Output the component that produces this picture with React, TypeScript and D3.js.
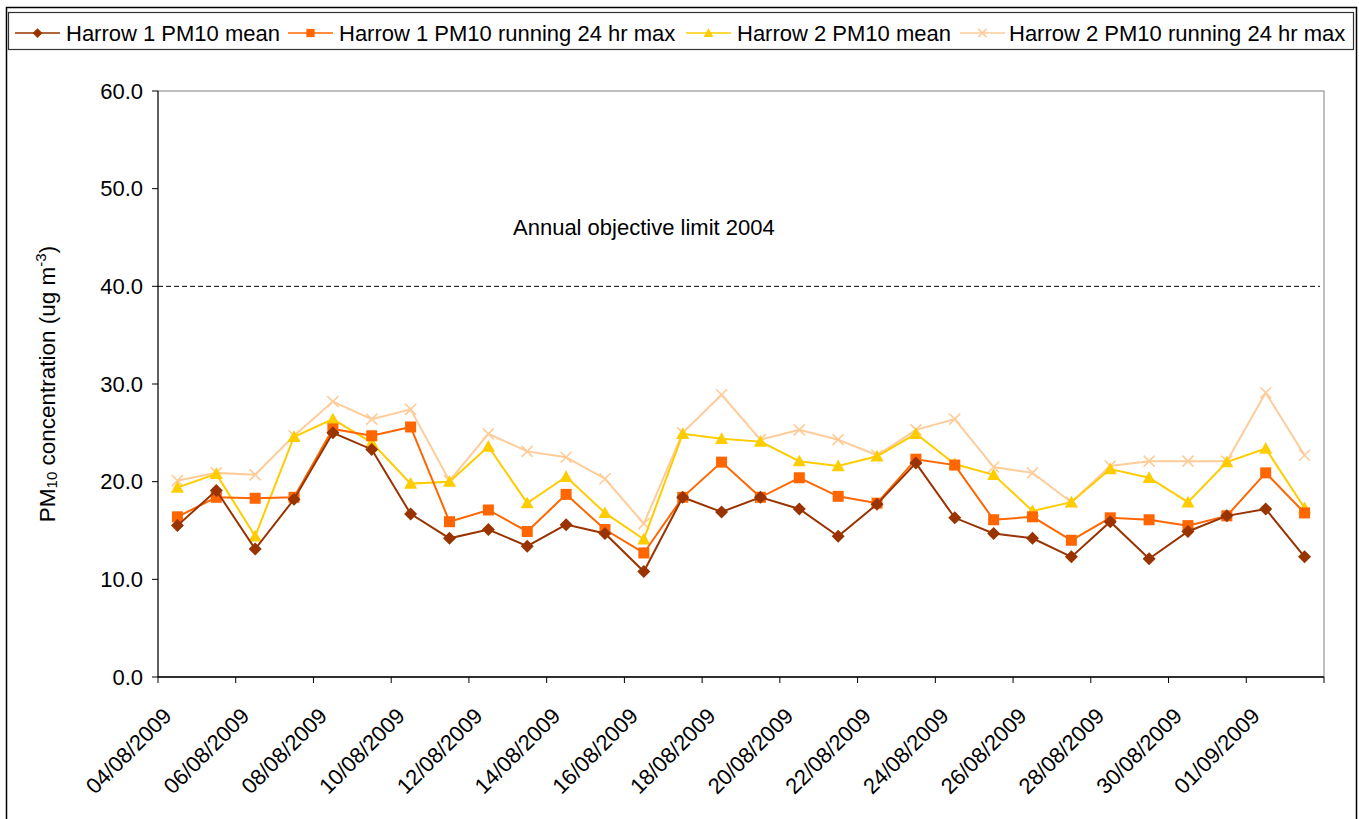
import * as d3 from "d3";

const dates = [
  "04/08/2009", "05/08/2009", "06/08/2009", "07/08/2009", "08/08/2009",
  "09/08/2009", "10/08/2009", "11/08/2009", "12/08/2009", "13/08/2009",
  "14/08/2009", "15/08/2009", "16/08/2009", "17/08/2009", "18/08/2009",
  "19/08/2009", "20/08/2009", "21/08/2009", "22/08/2009", "23/08/2009",
  "24/08/2009", "25/08/2009", "26/08/2009", "27/08/2009", "28/08/2009",
  "29/08/2009", "30/08/2009", "31/08/2009", "01/09/2009", "02/09/2009",
];

const harrow1Mean = [
  15.5, 19.1, 13.1, 18.2, 25.0, 23.3, 16.7, 14.2, 15.1, 13.4,
  15.6, 14.7, 10.8, 18.4, 16.9, 18.4, 17.2, 14.4, 17.7, 21.9,
  16.3, 14.7, 14.2, 12.3, 15.9, 12.1, 14.9, 16.5, 17.2, 12.3,
];
const harrow1Max = [
  16.4, 18.4, 18.3, 18.4, 25.4, 24.7, 25.6, 15.9, 17.1, 14.9,
  18.7, 15.1, 12.7, 18.4, 22.0, 18.4, 20.4, 18.5, 17.8, 22.3,
  21.7, 16.1, 16.4, 14.0, 16.3, 16.1, 15.5, 16.5, 20.9, 16.8,
];
const harrow2Mean = [
  19.4, 20.8, 14.4, 24.6, 26.4, 24.0, 19.8, 20.0, 23.6, 17.8,
  20.5, 16.8, 14.1, 24.9, 24.4, 24.1, 22.1, 21.6, 22.6, 24.9,
  21.8, 20.7, 17.0, 17.9, 21.3, 20.4, 17.9, 22.0, 23.4, 17.3,
];
const harrow2Max = [
  20.1, 20.9, 20.7, 24.7, 28.2, 26.4, 27.4, 20.1, 24.9, 23.1,
  22.5, 20.3, 15.7, 25.0, 28.9, 24.3, 25.3, 24.3, 22.7, 25.3,
  26.4, 21.5, 20.9, 17.9, 21.6, 22.1, 22.1, 22.1, 29.1, 22.7,
];

const yTicks = [0, 10, 20, 30, 40, 50, 60];
const objectiveLimit = 40;
const objectiveLabel = "Annual objective limit 2004";

const series = [
  { name: "Harrow 1 PM10 mean", values: harrow1Mean, color: "#993300", marker: "diamond" },
  { name: "Harrow 1 PM10 running 24 hr max", values: harrow1Max, color: "#FF6600", marker: "square" },
  { name: "Harrow 2 PM10 mean", values: harrow2Mean, color: "#FFCC00", marker: "triangle" },
  { name: "Harrow 2 PM10 running 24 hr max", values: harrow2Max, color: "#FFCC99", marker: "cross" },
];

const FONT = "'Liberation Sans', Arial, sans-serif";

const Marker = ({ kind, color, x, y, s = 1 }: { kind: string; color: string; x: number; y: number; s?: number }) => {
  if (kind === "diamond") {
    const r = 6.5 * s;
    return <path d={`M${x},${y - r}L${x + r},${y}L${x},${y + r}L${x - r},${y}Z`} fill={color} />;
  }
  if (kind === "square") {
    const r = 5.5 * s;
    return <rect x={x - r} y={y - r} width={2 * r} height={2 * r} fill={color} />;
  }
  if (kind === "triangle") {
    const r = 6.5 * s;
    return <path d={`M${x},${y - r}L${x + r},${y + r * 0.8}L${x - r},${y + r * 0.8}Z`} fill={color} />;
  }
  const r = 5.5 * s;
  return (
    <path
      d={`M${x - r},${y - r}L${x + r},${y + r}M${x - r},${y + r}L${x + r},${y - r}`}
      stroke={color}
      strokeWidth={1.6}
      fill="none"
    />
  );
};

export default function App() {
  const width = 1359;
  const height = 819;
  const plot = { left: 158, right: 1324, top: 91, bottom: 677 };

  const x = d3.scaleBand<string>().domain(dates).range([plot.left, plot.right]).padding(0);
  const cx = (d: string) => (x(d) || 0) + x.bandwidth() / 2;
  const y = d3.scaleLinear().domain([0, 60]).range([plot.bottom, plot.top]);

  const line = d3
    .line<number>()
    .x((_, i) => cx(dates[i]))
    .y((d) => y(d));

  const tickDates = dates.filter((_, i) => i % 2 === 0);
  const tickXs = [...tickDates.map((d) => x(d) || 0), plot.right];

  const legendItems = [
    { lineX: 15, textX: 66 },
    { lineX: 288, textX: 339 },
    { lineX: 686, textX: 737 },
    { lineX: 960, textX: 1009 },
  ];

  return (
    <svg
      width={width}
      height={height}
      style={{ position: "absolute", left: 0, top: 0, background: "#fff" }}
      fontFamily={FONT}
    >
      {/* outer chart frame */}
      <rect x={6.5} y={7.5} width={1350} height={830} fill="#fff" stroke="#000" strokeWidth={1.5} />

      {/* legend */}
      <rect x={8.5} y={12.5} width={1345} height={37} fill="#fff" stroke="#333" strokeWidth={1.2} />
      {series.map((s, i) => {
        const it = legendItems[i];
        return (
          <g key={s.name}>
            <line x1={it.lineX} x2={it.lineX + 45} y1={33} y2={33} stroke={s.color} strokeWidth={1.5} />
            <Marker kind={s.marker} color={s.color} x={it.lineX + 22.5} y={33} s={0.75} />
            <text x={it.textX} y={33} dy="0.35em" fontSize={22} fill="#000">
              {s.name}
            </text>
          </g>
        );
      })}

      {/* plot area border */}
      <rect
        x={plot.left}
        y={plot.top}
        width={plot.right - plot.left}
        height={plot.bottom - plot.top}
        fill="#fff"
        stroke="#808080"
        strokeWidth={1}
      />

      {/* y axis */}
      <line x1={plot.left} x2={plot.left} y1={plot.top} y2={plot.bottom} stroke="#000" strokeWidth={1} />
      {yTicks.map((t) => (
        <g key={t}>
          <line x1={plot.left - 6} x2={plot.left} y1={y(t)} y2={y(t)} stroke="#000" />
          <text x={143} y={y(t)} dy="0.35em" textAnchor="end" fontSize={22} fill="#000">
            {d3.format(".1f")(t)}
          </text>
        </g>
      ))}
      <text
        transform={`translate(47,${(plot.top + plot.bottom) / 2}) rotate(-90)`}
        textAnchor="middle"
        dy="0.35em"
        fontSize={22.5}
        fill="#000"
      >
        PM<tspan fontSize={15} dy="2">10</tspan>
        <tspan dy="-2"> concentration (ug m</tspan>
        <tspan fontSize={15} dy="-9">-3</tspan>
        <tspan dy="9">)</tspan>
      </text>

      {/* x axis */}
      <line x1={plot.left} x2={plot.right} y1={plot.bottom} y2={plot.bottom} stroke="#000" strokeWidth={1.5} />
      {tickXs.map((tx, i) => (
        <line key={i} x1={tx} x2={tx} y1={plot.bottom} y2={plot.bottom + 6} stroke="#000" />
      ))}
      {tickDates.map((d) => (
        <text
          key={d}
          transform={`translate(${cx(d) - 10},712) rotate(-45)`}
          textAnchor="end"
          dy="0.35em"
          fontSize={22}
          fill="#000"
        >
          {d}
        </text>
      ))}

      {/* objective line */}
      <line
        x1={plot.left}
        x2={plot.right - 4}
        y1={y(objectiveLimit)}
        y2={y(objectiveLimit)}
        stroke="#000"
        strokeWidth={1}
        strokeDasharray="5,3"
      />
      <text x={513} y={235} fontSize={22} fill="#000">
        {objectiveLabel}
      </text>

      {/* series, drawn so Harrow 1 mean ends on top */}
      {[...series].reverse().map((s) => (
        <g key={s.name}>
          <path d={line(s.values) || ""} fill="none" stroke={s.color} strokeWidth={2} />
          {s.values.map((v, i) => (
            <Marker key={i} kind={s.marker} color={s.color} x={cx(dates[i])} y={y(v)} />
          ))}
        </g>
      ))}
    </svg>
  );
}
